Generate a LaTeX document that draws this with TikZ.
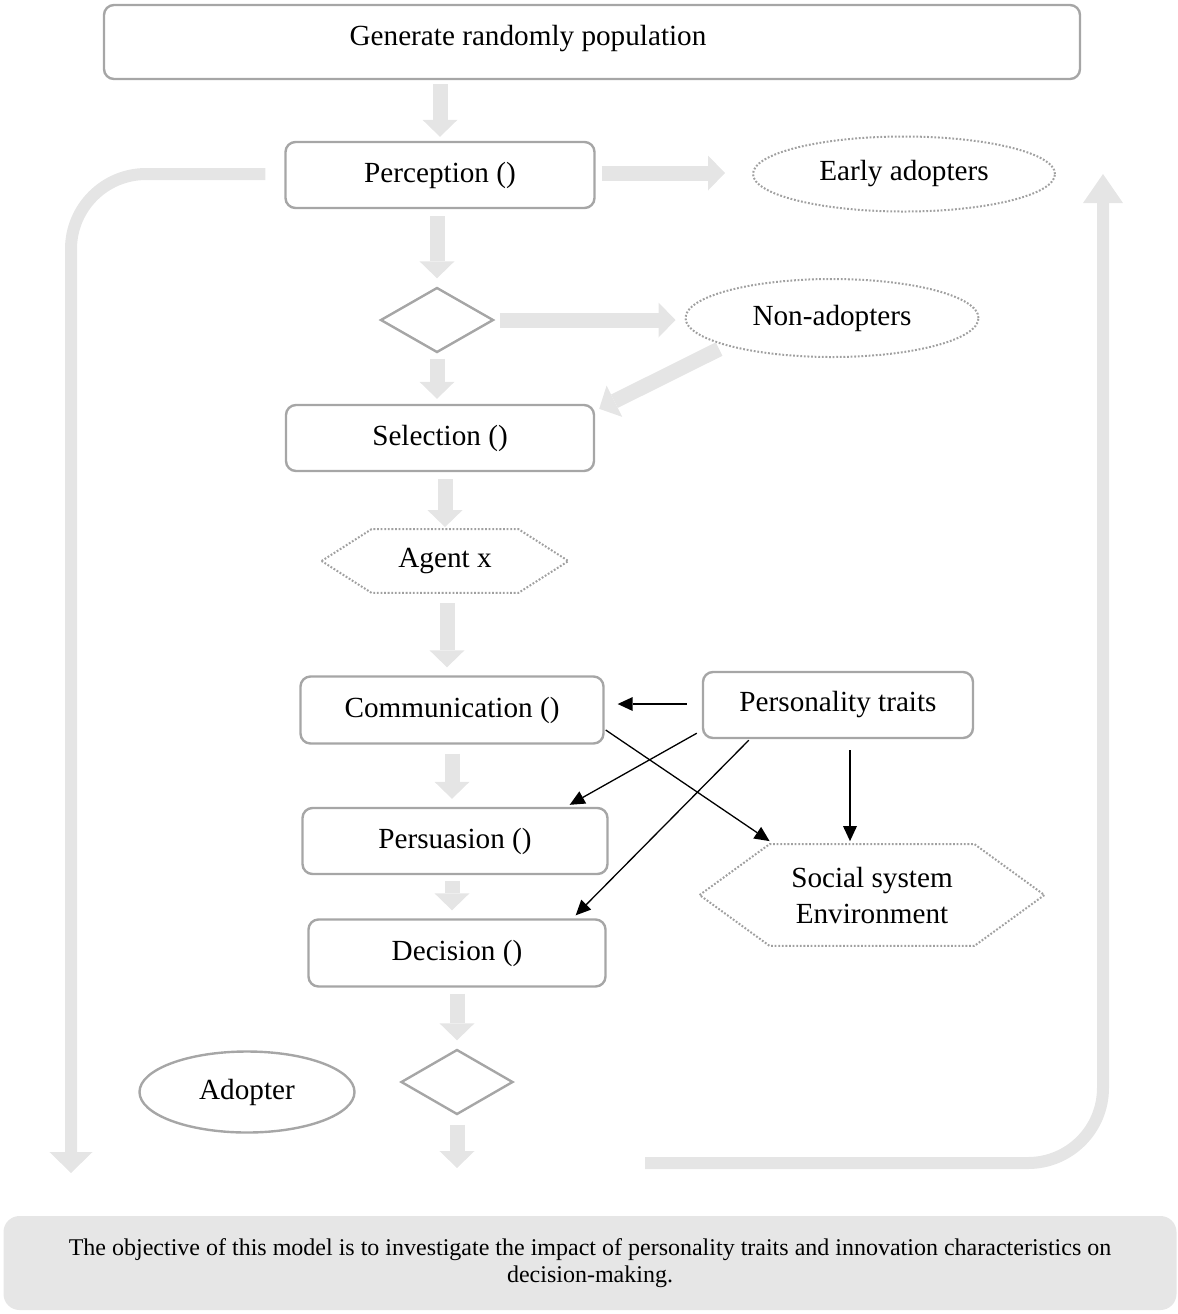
\documentclass[tikz,border=0pt]{standalone}
\usepackage{fontspec}
\setmainfont{Liberation Serif}
\usetikzlibrary{arrows.meta,shapes.geometric,calc}
\definecolor{arrowgray}{HTML}{E5E5E5}
\definecolor{bordgray}{HTML}{A6A6A6}
\definecolor{dotgray}{HTML}{A0A0A0}
\definecolor{notegray}{HTML}{E6E6E6}
\begin{document}
\begin{tikzpicture}[x=0.5pt,y=-0.5pt,
  font=\fontsize{14.6}{17}\selectfont,
  procbox/.style={draw=bordgray, line width=1.2pt, rounded corners=5pt, inner sep=0pt},
  dotell/.style={ellipse, draw=dotgray, line width=1pt, dash pattern=on 0.9pt off 0.9pt, inner sep=0pt},
  solell/.style={ellipse, draw=bordgray, line width=1.2pt, inner sep=0pt},
  diam/.style={diamond, draw=bordgray, line width=1.2pt, inner sep=0pt},
  dotpoly/.style={draw=dotgray, line width=1pt, dash pattern=on 0.9pt off 0.9pt},
  notebox/.style={fill=notegray, rounded corners=8pt, inner sep=0pt, align=center, font=\fontsize{12}{13.5}\selectfont},
  garrow/.style={draw=arrowgray, line width=7.5pt, -{Triangle[length=8.5pt,width=17.5pt,line width=0pt]}},
  gloopl/.style={draw=arrowgray, line width=6pt, rounded corners=37.5pt, -{Triangle[length=10.5pt,width=21.5pt,line width=0pt]}},
  gloopr/.style={draw=arrowgray, line width=6pt, rounded corners=37.5pt, -{Triangle[length=14.5pt,width=20pt,line width=0pt]}},
  blk/.style={draw=black, line width=0.65pt, -{Triangle[length=7.5pt,width=7pt,line width=0pt]}}
]
\useasboundingbox (0,0) rectangle (1178,1314);

% nodes
\node[procbox, minimum width=488pt, minimum height=37pt] (top) at (592,42) {};
\node (toptext) at (528,39) {Generate randomly population};
\node[procbox, minimum width=154.5pt, minimum height=33pt] (perc) at (440,175) {Perception ()};
\node[dotell, minimum width=151pt, minimum height=37.5pt] (early) at (904,174) {Early adopters};
\node[diam, minimum width=56.5pt, minimum height=32.5pt] (d1) at (437,320) {};
\node[dotell, minimum width=146.5pt, minimum height=39pt] (nonad) at (832,318) {Non-adopters};
\node[procbox, minimum width=154pt, minimum height=33pt] (sel) at (440,438) {Selection ()};
\node[minimum width=123pt, minimum height=31.5pt, inner sep=0pt] (agent) at (445,561) {Agent x};
\node[procbox, minimum width=151.5pt, minimum height=33.5pt] (comm) at (452,710) {Communication ()};
\node[procbox, minimum width=135pt, minimum height=33pt] (pers) at (838,705) {Personality traits};
\node[minimum width=172pt, minimum height=50.5pt, inner sep=0pt, align=center, font=\fontsize{14.6}{18}\selectfont] (social) at (872,895) {Social system\\Environment};
\node[procbox, minimum width=152.5pt, minimum height=33pt] (persu) at (455,841) {Persuasion ()};
\node[procbox, minimum width=148.5pt, minimum height=33.5pt] (dec) at (457,953) {Decision ()};
\node[diam, minimum width=56pt, minimum height=32.5pt] (d2) at (457,1082) {};
\node[solell, minimum width=107.5pt, minimum height=40.5pt] (adopter) at (247,1092) {Adopter};
\node[notebox, minimum width=586.5pt, minimum height=47pt] (note) at (590,1263)
  {The objective of this model is to investigate the impact of personality traits and innovation characteristics on\\decision-making.};

% hexagons
\draw[dotpoly] (agent.west) -- ($(agent.north west)+(50,0)$) -- ($(agent.north east)+(-50,0)$) -- (agent.east)
  -- ($(agent.south east)+(-50,0)$) -- ($(agent.south west)+(50,0)$) -- cycle;
\draw[dotpoly] (social.west) -- ($(social.north west)+(70,0)$) -- ($(social.north east)+(-70,0)$) -- (social.east)
  -- ($(social.south east)+(-70,0)$) -- ($(social.south west)+(70,0)$) -- cycle;

% free-end coordinates
\coordinate (lcorner) at (71,174);
\coordinate (lend) at (71,1173);
\coordinate (rstart) at (645,1163);
\coordinate (rcorner) at (1103,1163);
\coordinate (rend) at (1103,174);
\coordinate (dend) at (457,1168);

% gray block arrows
\draw[garrow, shorten <=2pt, shorten >=2pt] (perc.north |- top.south) -- (perc.north);
\draw[garrow, shorten <=3.5pt, shorten >=4pt] (perc.south -| d1.north) -- (d1.north);
\draw[garrow, shorten <=2.5pt, shorten >=2.5pt] (d1.south) -- (d1.south |- sel.north);
\draw[garrow, shorten <=3.5pt, shorten >=1pt] ($(sel.south)+(5,0)$) -- ($(agent.north)$);
\draw[garrow, shorten <=5pt, shorten >=4pt] ($(agent.south)+(2,0)$) -- ($(comm.north)+(-5,0)$);
\draw[garrow, shorten <=4.5pt, shorten >=4pt] (comm.south) -- (comm.south |- persu.north);
\draw[garrow, shorten <=3pt, shorten >=4pt] ($(persu.south)+(-3,0)$) -- ($(dec.north)+(-5,0)$);
\draw[garrow, shorten <=3pt, shorten >=4pt] (dec.south) -- (d2.north);
\draw[garrow, shorten <=4.5pt] (d2.south) -- (dend);
\draw[garrow, shorten <=3pt, shorten >=13.5pt] ($(perc.east)+(0,-2)$) -- ($(perc.east -| early.west)+(0,-2)$);
\draw[garrow, shorten <=2.5pt, shorten >=4.5pt] (d1.east) -- (d1.east -| nonad.west);
\draw[garrow, shorten <=2pt] ($(nonad.south west)+(-5,1)$) -- ($(sel.north east)+(4,5)$);

% loops
\draw[gloopl] ($(perc.west)+(-19,-1)$) -- (lcorner) -- (lend);
\draw[gloopr] (rstart) -- (rcorner) -- (rend);

% black arrows
\draw[blk] ($(pers.west)+(-15,-1)$) -- ($(pers.west -| comm.east)+(13,-1)$);
\draw[blk] ($(comm.east)+(1,20)$) -- ($(social.north west)+(70,-3)$);
\draw[blk] ($(pers.south west)+(-5,-6)$) -- ($(persu.north east)+(-39,-2)$);
\draw[blk] ($(pers.south west)+(47,1)$) -- ($(dec.north east)+(-31,-3)$);
\draw[blk] ($(pers.south)+(12,11)$) -- ($(pers.south |- social.north)+(12,-3)$);
\end{tikzpicture}
\end{document}
